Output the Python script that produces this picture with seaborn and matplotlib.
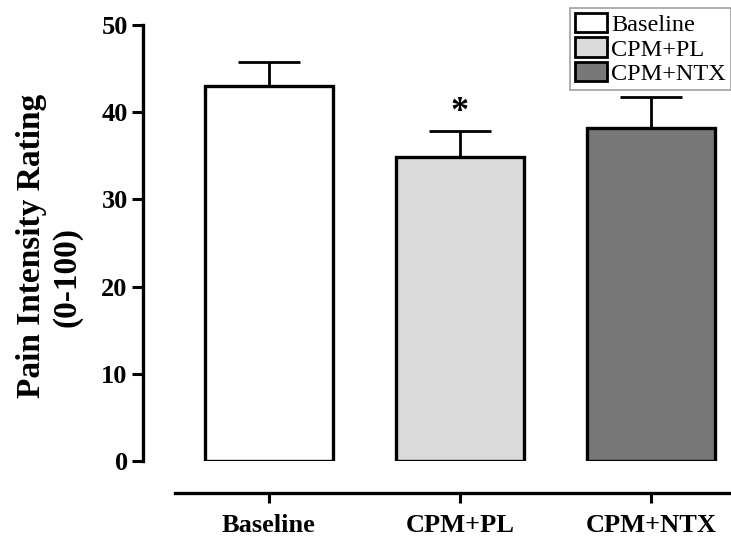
import matplotlib
matplotlib.use("Agg")
import matplotlib.pyplot as plt
import seaborn as sns
import pandas as pd
from matplotlib.patches import Patch

conditions = ["Baseline", "CPM+PL", "CPM+NTX"]
means = [43.0, 34.9, 38.2]
sem = [2.8, 3.0, 3.6]
colors = ["#ffffff", "#dadada", "#787878"]
ylabel_lines = ["Pain Intensity Rating", "(0-100)"]
yticks = [0, 10, 20, 30, 40, 50]

sns.set_style("ticks")
plt.rcParams["font.family"] = ["Liberation Serif", "DejaVu Serif"]
plt.rcParams.update({"text.color": "black", "axes.labelcolor": "black",
                     "xtick.color": "black", "ytick.color": "black",
                     "axes.edgecolor": "black"})

df = pd.DataFrame({"cond": conditions, "val": means})

W, H = 731, 544
fig = plt.figure(figsize=(W / 100, H / 100), dpi=100)
ax = fig.add_axes([143 / W, (H - 461) / H, (W - 143) / W, (461 - 25) / H])

sns.barplot(data=df, x="cond", y="val", hue="cond", palette=colors, order=conditions,
            hue_order=conditions, width=0.67, edgecolor="black", linewidth=2.4,
            errorbar=None, legend=False, ax=ax, saturation=1)

ax.errorbar(range(len(conditions)), means, yerr=[[0] * len(sem), sem], fmt="none",
            ecolor="black", elinewidth=2.0, capsize=22, capthick=2.0, zorder=0)

# significance marker
ax.text(1, means[1] + sem[1] + 0.2, "*", ha="center", va="bottom", fontsize=26,
        fontweight="bold")

sns.despine(ax=ax, top=True, right=True)
ax.spines["bottom"].set_position(("outward", 23))
ax.spines["left"].set_linewidth(2.4)
ax.spines["bottom"].set_linewidth(2.4)

ax.set_xlim(-0.66, 2.42)
ax.set_ylim(0, 50)
ax.set_yticks(yticks, [str(t) for t in yticks], fontweight="bold", fontsize=19)
ax.set_xticks(range(len(conditions)), conditions, fontweight="bold", fontsize=19)
ax.set_xlabel("")
ax.set_ylabel("")
ax.spines["left"].set_bounds(0, 50)
ax.spines["bottom"].set_bounds(-0.49, 2.42)

ax.tick_params(axis="y", length=8, width=2.2, pad=3)
ax.tick_params(axis="x", length=7, width=2.2, pad=8)

# y-axis label (two lines, second offset as in the original)
fig.text(32 / W, 1 - 246 / H, ylabel_lines[0], rotation=90, ha="center", va="center",
         fontsize=24, fontweight="bold")
fig.text(67 / W, 1 - 277 / H, ylabel_lines[1], rotation=90, ha="center", va="center",
         fontsize=24, fontweight="bold")

handles = [Patch(facecolor=c, edgecolor="black", linewidth=2.0) for c in colors]
leg = fig.legend(handles, conditions, loc="upper right", bbox_to_anchor=(1.0, 1 - 8 / H),
                 fontsize=17.5, frameon=True, fancybox=False, borderpad=0.2,
                 labelspacing=0.06, handlelength=1.3, handleheight=0.85,
                 handletextpad=0.2, borderaxespad=0)
leg.get_frame().set_edgecolor("#888888")
leg.get_frame().set_linewidth(1.2)

fig.savefig("out.png", dpi=100)
